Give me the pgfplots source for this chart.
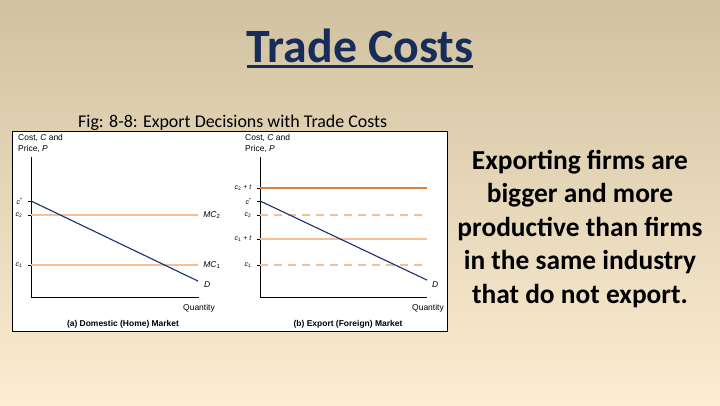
\documentclass[border=0pt]{standalone}
\usepackage{pgfplots}
\pgfplotsset{compat=1.18}
\usepackage{fontspec}
\setmainfont{Carlito}
\newfontfamily\arial{Liberation Sans}
\definecolor{bgtop}{RGB}{208,194,160}
\definecolor{bgmid}{RGB}{238,226,198}
\definecolor{bgbot}{RGB}{252,237,210}
\definecolor{navy}{RGB}{24,44,92}
\definecolor{dline}{RGB}{28,46,110}
\definecolor{dorange}{RGB}{216,128,66}
\definecolor{lorange}{RGB}{244,192,152}

\pgfplotsset{panel/.style={
    scale only axis, anchor=south west,
    width=168bp, height=140bp,
    xmin=0, xmax=10, ymin=0, ymax=10,
    axis lines=left, axis line style={-, line width=0.9bp, black},
    xtick=\empty,
    tick align=outside, major tick length=3bp,
    tick style={black, line width=0.6bp},
    yticklabel style={font=\arial\fontsize{7}{8}\selectfont, xshift=-2bp},
    clip=false,
}}
\newcommand{\figfont}{\arial\fontsize{8.5}{9.5}\selectfont}

\begin{document}
\begin{tikzpicture}[x=1bp,y=1bp]
\useasboundingbox (0,0) rectangle (720,405);
\shade[top color=bgtop, middle color=bgmid, bottom color=bgbot] (0,0) rectangle (720,405);

% title
\node (t) [anchor=base, inner sep=0, text=navy, font=\fontsize{48}{48}\selectfont\bfseries] at (360,343) {Trade Costs};
\draw[navy, line width=2.5bp] ([yshift=-4.5bp]t.base west) -- ([yshift=-4.5bp]t.base east);

\node[anchor=base west, inner sep=0, font=\fontsize{18}{18}\selectfont] at (78,278) {Fig: 8-8: Export Decisions with Trade Costs};

% figure frame
\draw[black, fill=white, line width=0.8bp] (12,74) rectangle (447,274);

% (a) domestic market
\begin{axis}[panel, at={(31bp,108bp)},
    ytick={2.29,5.86,6.86},
    yticklabels={\textit{c}\textsubscript{1},\textit{c}\textsubscript{2},\textit{c}\textsuperscript{*}}]
\addplot[lorange, line width=1.4bp] coordinates {(0,5.86) (9.94,5.86)};
\addplot[lorange, line width=1.4bp] coordinates {(0,2.29) (9.94,2.29)};
\addplot[dline, line width=1.1bp] coordinates {(0,6.86) (9.94,1.14)};
\node[anchor=west, font=\figfont] at (axis cs:10.05,5.86) {\textit{MC}\textsubscript{2}};
\node[anchor=west, font=\figfont] at (axis cs:10.05,2.29) {\textit{MC}\textsubscript{1}};
\node[anchor=west, font=\figfont] at (axis cs:10.1,0.9) {\textit{D}};
\end{axis}

% (b) export market
\begin{axis}[panel, at={(260bp,108bp)}, width=167bp,
    ytick={2.29,4.14,5.86,6.86,7.79},
    yticklabels={\textit{c}\textsubscript{1},\textit{c}\textsubscript{1} + \textit{t},\textit{c}\textsubscript{2},\textit{c}\textsuperscript{*},\textit{c}\textsubscript{2} + \textit{t}}]
\addplot[dorange, line width=1.4bp] coordinates {(0,7.79) (10,7.79)};
\addplot[lorange, line width=1.4bp, dash pattern=on 8bp off 6bp] coordinates {(0,5.86) (9.75,5.86)};
\addplot[lorange, line width=1.4bp] coordinates {(0,4.14) (10,4.14)};
\addplot[lorange, line width=1.4bp, dash pattern=on 8bp off 6bp] coordinates {(0,2.29) (9.75,2.29)};
\addplot[dline, line width=1.1bp] coordinates {(0,6.86) (10,1.21)};
\node[anchor=west, font=\figfont] at (axis cs:10.1,0.9) {\textit{D}};
\end{axis}

% figure texts
\foreach \xx in {18,245} {
  \node[anchor=west, inner sep=0, font=\figfont] at (\xx,267) {Cost, \textit{C} and};
  \node[anchor=west, inner sep=0, font=\figfont] at (\xx,256) {Price, \textit{P}};
}
\node[font=\figfont] at (199,97) {Quantity};
\node[font=\figfont] at (428,97) {Quantity};
\node[font=\arial\bfseries\fontsize{8.5}{9}\selectfont] at (123,81) {(a) Domestic (Home) Market};
\node[font=\arial\bfseries\fontsize{8.5}{9}\selectfont] at (348,81) {(b) Export (Foreign) Market};

% side text
\foreach \yy/\txt in {236/Exporting firms are, 202.5/bigger and more, 169/productive than firms, 135.5/in the same industry, 102/that do not export.} {
  \node[anchor=base, inner sep=0, font=\fontsize{27.5}{30}\selectfont\bfseries] at (580,\yy) {\txt};
}
\end{tikzpicture}
\end{document}
